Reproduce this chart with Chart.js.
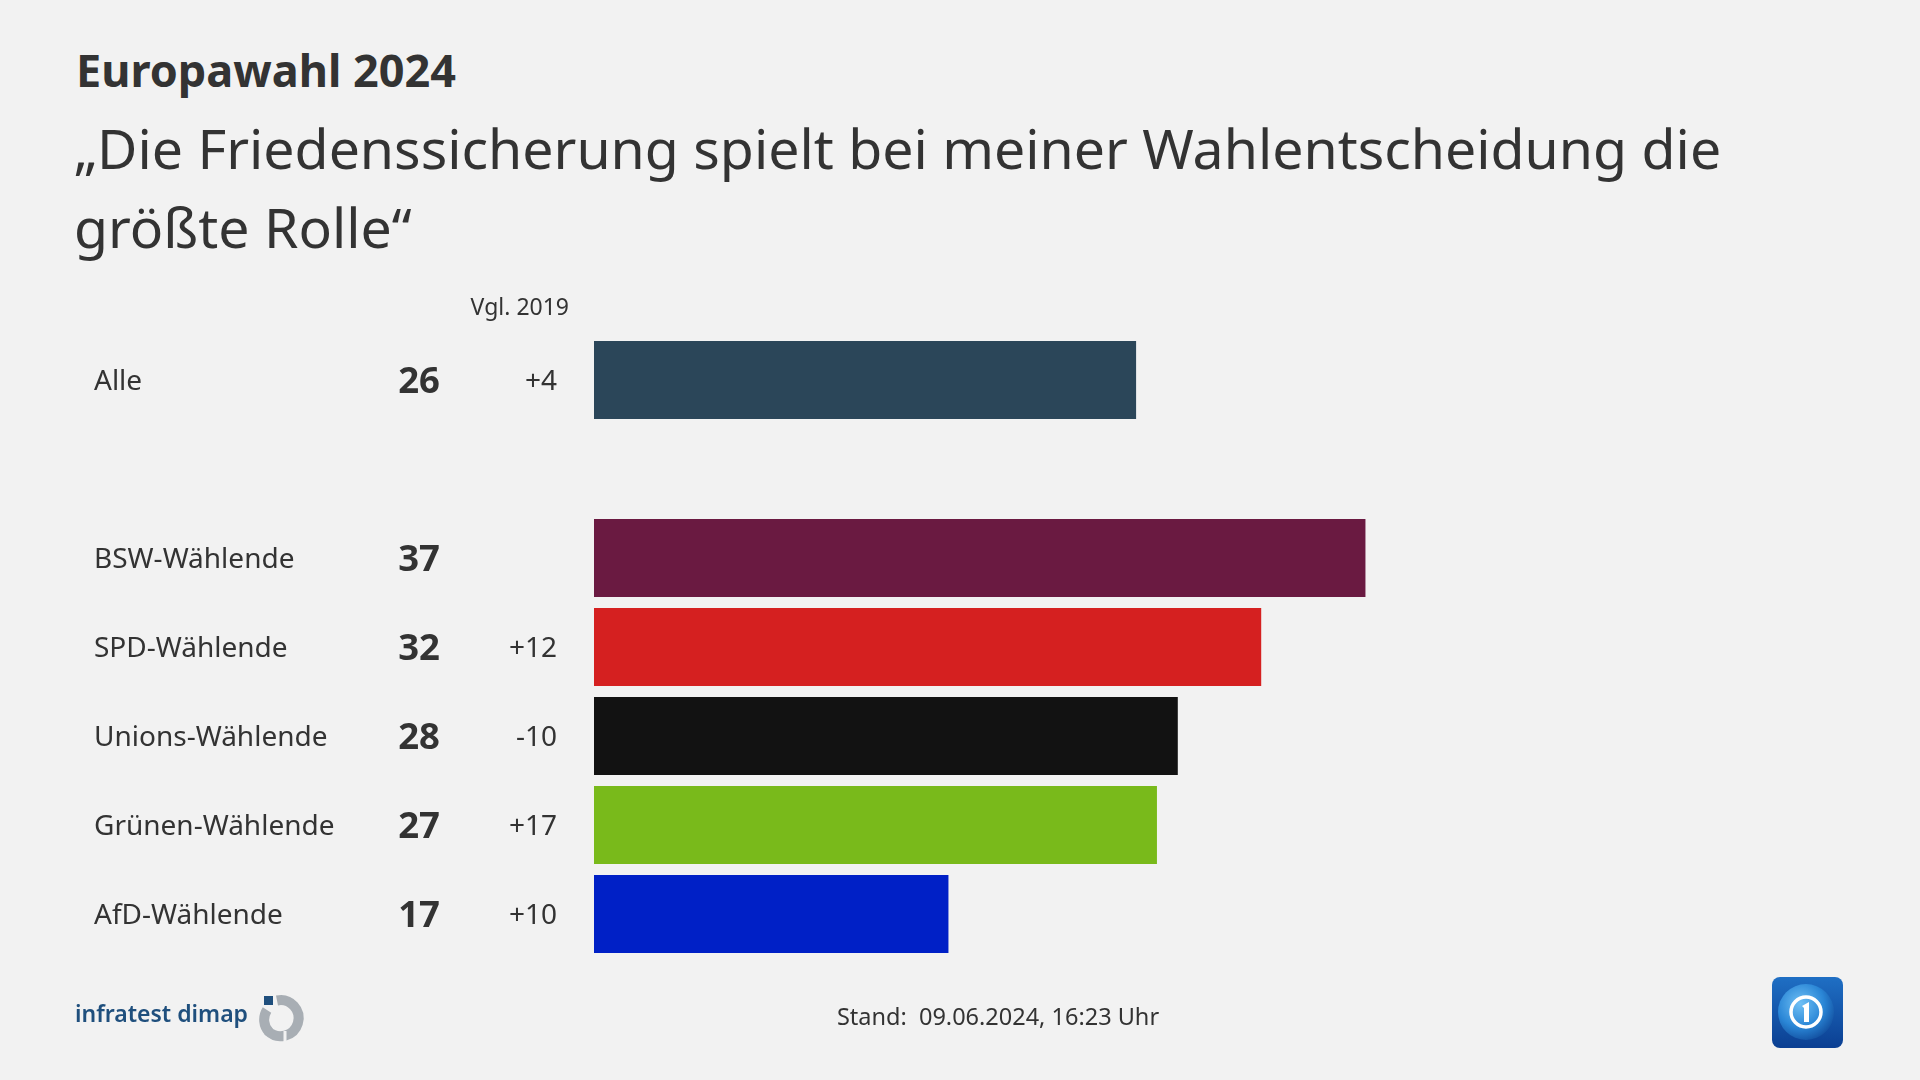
<!DOCTYPE html>
<html><head><meta charset="utf-8">
<script src="https://cdn.jsdelivr.net/npm/chart.js@4"></script>
<style>
html,body{margin:0;padding:0;background:#f2f2f2;}
body{width:1920px;height:1080px;position:relative;overflow:hidden;font-family:"Noto Sans",sans-serif;color:#333;}
#c{position:absolute;left:0;top:0;}
.t{position:absolute;white-space:nowrap;line-height:1;}
</style></head><body>
<div class="t" style="left:76px;top:47px;font-size:45px;font-weight:bold;color:#333">Europawahl 2024</div>
<div class="t" style="left:74px;top:108px;font-size:55.4px;line-height:79px;color:#333">„Die Friedenssicherung spielt bei meiner Wahlentscheidung die<br>größte Rolle“</div>
<canvas id="c" width="1920" height="1080"></canvas>
<div class="t" style="left:998px;top:1005px;font-size:23.5px;color:#333;transform:translateX(-50%)">Stand:&nbsp; 09.06.2024, 16:23 Uhr</div>
<div class="t" style="left:75px;top:1002px;font-size:23px;font-weight:600;color:#1f4f7d">infratest dimap</div>
<svg style="position:absolute;left:259px;top:993px" width="52" height="52" viewBox="0 0 52 52">
  <path d="M 18 7.5 A 18 18 0 1 1 9 38" fill="none" stroke="#a8aeb4" stroke-width="10"/>
  <path d="M 10 39 A 18 18 0 0 1 8 17" fill="none" stroke="#a8aeb4" stroke-width="10"/>
  <rect x="24.5" y="38" width="3" height="14" fill="#f2f2f2"/>
  <rect x="5" y="3" width="9" height="9" fill="#1f4f7d"/>
</svg>
<svg style="position:absolute;left:1772px;top:977px" width="71" height="71" viewBox="0 0 71 71">
  <defs>
    <linearGradient id="bg" x1="0" y1="0" x2="0" y2="1"><stop offset="0" stop-color="#1f6fc4"/><stop offset="1" stop-color="#0b3f92"/></linearGradient>
    <radialGradient id="gl" cx="0.4" cy="0.35" r="0.7"><stop offset="0" stop-color="#6fc0f5"/><stop offset="0.6" stop-color="#2a86d6"/><stop offset="1" stop-color="#124e9e"/></radialGradient>
  </defs>
  <rect x="0" y="0" width="71" height="71" rx="8" fill="url(#bg)"/>
  <circle cx="34" cy="35" r="28" fill="url(#gl)"/>
  <circle cx="34" cy="35" r="15" fill="none" stroke="#fff" stroke-width="3.5"/>
  <path d="M 30 29 L 37 25 L 37 45 L 32 45 L 32 31 Z" fill="#fff"/>
</svg>
<script>
const categories = ["Alle", "", "BSW-Wählende", "SPD-Wählende", "Unions-Wählende", "Grünen-Wählende", "AfD-Wählende"];
const values = [26, null, 37, 32, 28, 27, 17];
const changes = ["+4", "", "", "+12", "-10", "+17", "+10"];
const barColors = ["#2b4659", "#f2f2f2", "#6a1a41", "#d52020", "#121212", "#79ba1b", "#0020c6"];
const changeHeader = "Vgl. 2019";

const textPlugin = {
  id: 'rowText',
  afterDatasetsDraw(chart) {
    const ctx = chart.ctx;
    const y = chart.scales.y;
    ctx.save();
    ctx.fillStyle = '#333';
    ctx.textBaseline = 'alphabetic';
    categories.forEach((cat, i) => {
      const cy = y.getPixelForValue(i);
      if (!cat) return;
      ctx.font = '28px "Noto Sans"';
      ctx.textAlign = 'left';
      ctx.fillText(cat, 94, cy + 10);
      if (values[i] !== null) {
        ctx.font = 'bold 36.5px "Noto Sans"';
        ctx.textAlign = 'right';
        ctx.fillText(String(values[i]), 440, cy + 12.5);
      }
      if (changes[i]) {
        ctx.font = '28px "Noto Sans"';
        ctx.textAlign = 'right';
        ctx.fillText(changes[i], 557, cy + 10);
      }
    });
    ctx.font = '23px "Noto Sans"';
    ctx.textAlign = 'right';
    ctx.fillText(changeHeader, 569, 315);
    ctx.restore();
  }
};

new Chart(document.getElementById('c'), {
  type: 'bar',
  data: {
    labels: categories,
    datasets: [{
      data: values,
      backgroundColor: barColors,
      borderWidth: 0,
      barPercentage: 0.876,
      categoryPercentage: 1.0
    }]
  },
  options: {
    indexAxis: 'y',
    responsive: false,
    animation: false,
    events: [],
    layout: { padding: { left: 594, right: 75, top: 335.5, bottom: 121.5 } },
    scales: {
      x: { display: false, min: 0, max: 60 },
      y: { display: false }
    },
    plugins: { legend: { display: false }, tooltip: { enabled: false } }
  },
  plugins: [textPlugin]
});
</script>
</body></html>
